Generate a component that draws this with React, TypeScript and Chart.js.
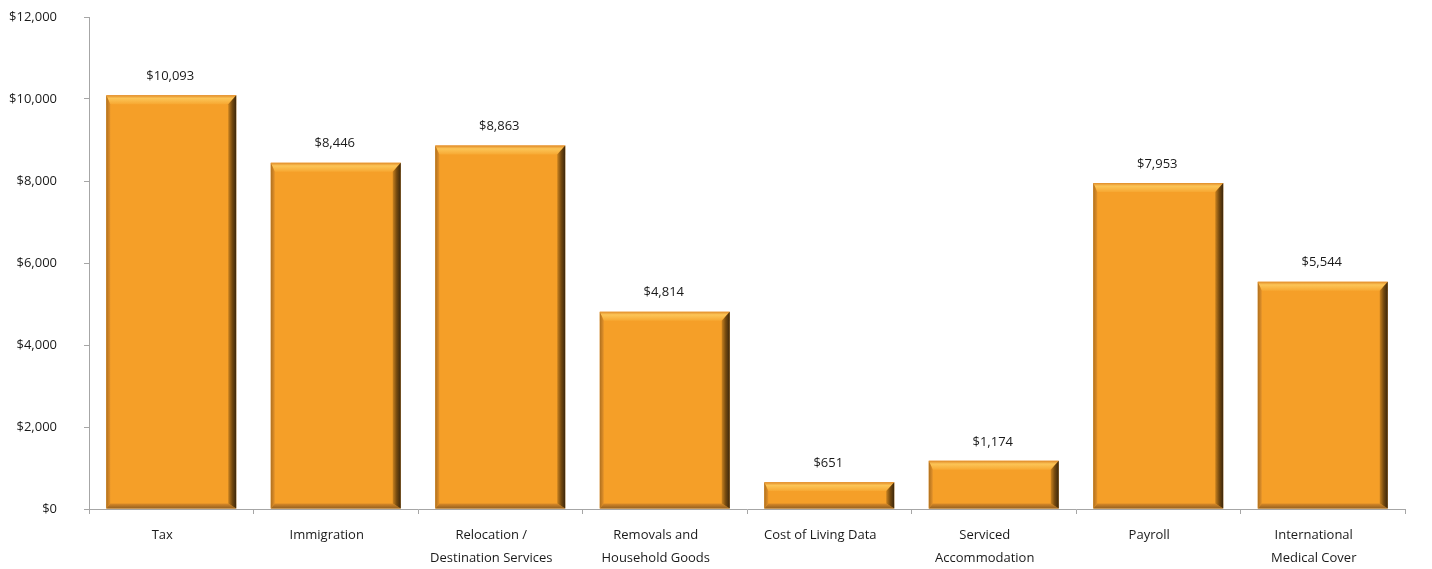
import React, { useEffect, useRef } from "react";
import { Chart, registerables } from "chart.js";

Chart.register(...registerables);

const categories: string[][] = [
  ["Tax"],
  ["Immigration"],
  ["Relocation /", "Destination Services"],
  ["Removals and", "Household Goods"],
  ["Cost of Living Data"],
  ["Serviced", "Accommodation"],
  ["Payroll"],
  ["International", "Medical Cover"],
];
const values: number[] = [10093, 8446, 8863, 4814, 651, 1174, 7953, 5544];
const yTicks: number[] = [0, 2000, 4000, 6000, 8000, 10000, 12000];

const fmt = (v: number) => "$" + v.toLocaleString("en-US");

const FONT = "'Open Sans', 'Noto Sans', sans-serif";

const bevelPlugin = {
  id: "bevel",
  afterDatasetsDraw(chart: any) {
    const ctx = chart.ctx as CanvasRenderingContext2D;
    const meta = chart.getDatasetMeta(0);
    meta.data.forEach((bar: any, i: number) => {
      const { x, y, base, width } = bar.getProps(["x", "y", "base", "width"], true);
      const l = x - width / 2;
      const r = x + width / 2;
      const t = y;
      const b = base;
      const h = b - t;
      const bt = Math.min(9, h / 3);
      const bb = Math.min(5, h / 4);
      const bl = 4;
      const br = 8;
      ctx.save();
      // top bevel
      let g = ctx.createLinearGradient(0, t, 0, t + bt);
      g.addColorStop(0, "#E08A28");
      g.addColorStop(0.35, "#FCC557");
      g.addColorStop(1, "#F7A832");
      ctx.fillStyle = g;
      ctx.beginPath();
      ctx.moveTo(l, t);
      ctx.lineTo(r, t);
      ctx.lineTo(r - br, t + bt);
      ctx.lineTo(l + bl, t + bt);
      ctx.closePath();
      ctx.fill();
      // left bevel
      g = ctx.createLinearGradient(l, 0, l + bl, 0);
      g.addColorStop(0, "#B0701E");
      g.addColorStop(1, "#E3922A");
      ctx.fillStyle = g;
      ctx.beginPath();
      ctx.moveTo(l, t);
      ctx.lineTo(l + bl, t + bt);
      ctx.lineTo(l + bl, b - bb);
      ctx.lineTo(l, b);
      ctx.closePath();
      ctx.fill();
      // bottom bevel
      g = ctx.createLinearGradient(0, b - bb, 0, b);
      g.addColorStop(0, "#D98A28");
      g.addColorStop(1, "#94601F");
      ctx.fillStyle = g;
      ctx.beginPath();
      ctx.moveTo(l, b);
      ctx.lineTo(l + bl, b - bb);
      ctx.lineTo(r - br, b - bb);
      ctx.lineTo(r, b);
      ctx.closePath();
      ctx.fill();
      // right bevel
      g = ctx.createLinearGradient(r - br, 0, r, 0);
      g.addColorStop(0, "#C9821F");
      g.addColorStop(0.5, "#74490F");
      g.addColorStop(1, "#3A260C");
      ctx.fillStyle = g;
      ctx.beginPath();
      ctx.moveTo(r, t);
      ctx.lineTo(r, b);
      ctx.lineTo(r - br, b - bb);
      ctx.lineTo(r - br, t + bt);
      ctx.closePath();
      ctx.fill();
      // value label
      ctx.fillStyle = "#1a1a1a";
      ctx.font = `13px ${FONT}`;
      ctx.textAlign = "center";
      ctx.textBaseline = "middle";
      ctx.fillText(fmt(values[i]), x - 1, t - 19);
      ctx.restore();
    });
  },
};

export default function App() {
  const ref = useRef<HTMLCanvasElement>(null);
  useEffect(() => {
    document.body.style.margin = "0";
    const chart = new Chart(ref.current!, {
      type: "bar",
      data: {
        labels: categories,
        datasets: [
          {
            data: values,
            backgroundColor: "#F59F28",
            borderWidth: 0,
            barPercentage: 0.79,
            categoryPercentage: 1,
          },
        ],
      },
      options: {
        animation: false,
        responsive: false,
        layout: { padding: { top: 17, right: 27, left: 0, bottom: 0 } },
        plugins: { legend: { display: false }, tooltip: { enabled: false } },
        scales: {
          x: {
            grid: {
              display: true,
              drawOnChartArea: false,
              drawTicks: true,
              tickLength: 5,
              color: "#A6A6A6",
              offset: true,
            },
            border: { color: "#A6A6A6", width: 1 },
            ticks: {
              color: "#1a1a1a",
              font: { family: FONT, size: 13, lineHeight: "23px" } as any,
              padding: 10,
              labelOffset: -9,
              maxRotation: 0,
              autoSkip: false,
            },
            afterFit: (s: any) => {
              s.height = 60;
              s.paddingLeft = 0;
              s.paddingRight = 0;
            },
          },
          y: {
            min: 0,
            max: 12000,
            afterBuildTicks: (s: any) => {
              s.ticks = yTicks.map((v) => ({ value: v }));
            },
            grid: {
              display: true,
              drawOnChartArea: false,
              drawTicks: true,
              tickLength: 5,
              color: "#A6A6A6",
            },
            border: { color: "#A6A6A6", width: 1 },
            ticks: {
              color: "#1a1a1a",
              font: { family: FONT, size: 13 },
              padding: 27,
              callback: (v: any) => fmt(Number(v)),
            },
            afterFit: (s: any) => {
              s.width = 89;
              s.paddingTop = 0;
              s.paddingBottom = 0;
            },
          },
        },
      },
      plugins: [bevelPlugin],
    });
    return () => chart.destroy();
  }, []);
  return <canvas ref={ref} width={1432} height={569} style={{ display: "block" }} />;
}
